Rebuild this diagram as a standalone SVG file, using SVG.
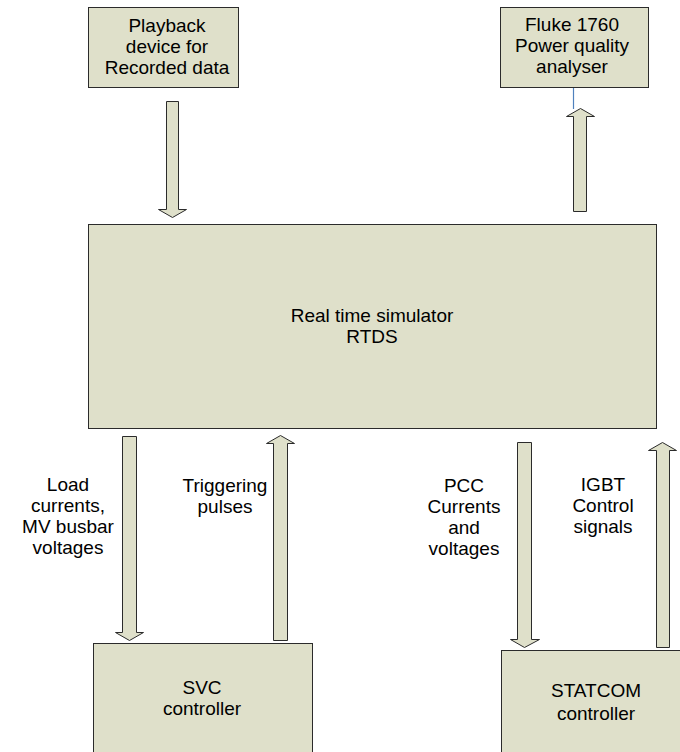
<svg xmlns="http://www.w3.org/2000/svg" width="680" height="752" viewBox="0 0 680 752">
  <style>
    .box { fill: #dfe0ca; stroke: #2b2b2b; stroke-width: 1; }
    .arrow { fill: #dfe0ca; stroke: #2b2b2b; stroke-width: 1; stroke-linejoin: miter; }
    text { font-family: "Liberation Sans", Arial, sans-serif; font-size: 19px; fill: #000; text-anchor: middle; }
  </style>
  <rect width="680" height="752" fill="#ffffff"/>

  <!-- connectors -->
  <g id="connectors">
    <line x1="573.5" y1="87.5" x2="573.5" y2="109" stroke="#4f81bd" stroke-width="1.2"/>
    <!-- playback -> RTDS -->
    <polygon class="arrow" points="166.5,101.5 178.5,101.5 178.5,209.5 186.5,209.5 172.5,217.5 158.5,209.5 166.5,209.5"/>
    <!-- RTDS -> Fluke -->
    <polygon class="arrow" points="573.5,211.5 586.5,211.5 586.5,116.5 594.5,116.5 580.5,108.5 566.5,116.5 573.5,116.5"/>
    <!-- RTDS -> SVC -->
    <polygon class="arrow" points="122.5,436.5 136.5,436.5 136.5,632.5 143.5,632.5 129.5,640.5 115.5,632.5 122.5,632.5"/>
    <!-- SVC -> RTDS -->
    <polygon class="arrow" points="273.5,640.5 287.5,640.5 287.5,443.5 294.5,443.5 280.5,435.5 266.5,443.5 273.5,443.5"/>
    <!-- RTDS -> STATCOM -->
    <polygon class="arrow" points="517.5,442.5 531.5,442.5 531.5,639.5 539.5,639.5 524.5,647.5 510.5,639.5 517.5,639.5"/>
    <!-- STATCOM -> RTDS -->
    <polygon class="arrow" points="656.5,647.5 669.5,647.5 669.5,450.5 676.5,450.5 662.5,442.5 648.5,450.5 656.5,450.5"/>

    <text x="68" y="491">Load</text>
    <text x="68" y="512">currents,</text>
    <text x="68" y="533">MV busbar</text>
    <text x="68" y="554">voltages</text>

    <text x="225" y="492">Triggering</text>
    <text x="225" y="513">pulses</text>

    <text x="464" y="492">PCC</text>
    <text x="464" y="513">Currents</text>
    <text x="464" y="534">and</text>
    <text x="464" y="555">voltages</text>

    <text x="603" y="491">IGBT</text>
    <text x="603" y="512">Control</text>
    <text x="603" y="533">signals</text>
  </g>

  <g id="playback">
    <rect class="box" x="88.5" y="7.5" width="150" height="80"/>
    <text x="167" y="32">Playback</text>
    <text x="167" y="53">device for</text>
    <text x="167" y="74">Recorded data</text>
  </g>

  <g id="fluke">
    <rect class="box" x="500.5" y="7.5" width="148" height="80"/>
    <text x="572" y="31">Fluke 1760</text>
    <text x="572" y="52">Power quality</text>
    <text x="572" y="73">analyser</text>
  </g>

  <g id="rtds">
    <rect class="box" x="88.5" y="224.5" width="568" height="204"/>
    <text x="372" y="322">Real time simulator</text>
    <text x="372" y="343">RTDS</text>
  </g>

  <g id="svc">
    <rect class="box" x="93.5" y="643.5" width="219" height="120"/>
    <text x="202" y="694">SVC</text>
    <text x="202" y="715">controller</text>
  </g>

  <g id="statcom">
    <rect class="box" x="501.5" y="650.5" width="190" height="120"/>
    <text x="596" y="697">STATCOM</text>
    <text x="596" y="720">controller</text>
  </g>
</svg>
